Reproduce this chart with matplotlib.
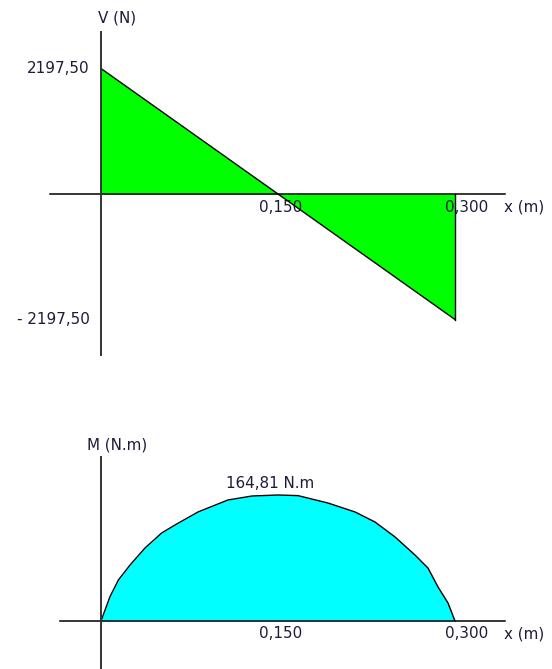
import matplotlib
matplotlib.use("Agg")
import matplotlib.pyplot as plt
import numpy as np

# ---- data -------------------------------------------------------------
# shear force diagram V(x)
v_x = [0.0, 0.150, 0.300]
v_val = [2197.50, 0.0, -2197.50]
v_labels = ["2197,50", "- 2197,50"]

# bending moment diagram M(x)
m_x = [0.0, 0.0076, 0.0147, 0.0246, 0.0373, 0.0514, 0.0627, 0.0822, 0.1076,
       0.1280, 0.150, 0.1669, 0.1924, 0.2153, 0.2322, 0.2492, 0.2661,
       0.2771, 0.2856, 0.2941, 0.300]
m_val = [0.0, 31.8, 53.6, 73.2, 95.5, 115.1, 125.6, 142.6, 158.3,
         163.5, 164.81, 164.0, 154.3, 142.6, 129.5, 109.9, 86.3,
         69.3, 44.5, 23.5, 0.0]
m_peak_label = "164,81 N.m"

x_ticks = [0.150, 0.300]
x_tick_labels = ["0,150", "0,300"]
x_axis_label = "x (m)"
v_axis_label = "V (N)"
m_axis_label = "M (N.m)"

# ---- layout (pixels) --------------------------------------------------
W, H = 552, 669
X0 = 101            # pixel column of x = 0
XS = 1180.0         # pixels per metre
V0 = 194            # pixel row of V = 0
VS = 125.5 / 2197.5  # pixels per newton
M0 = 621            # pixel row of M = 0
MS = 126.0 / 164.81  # pixels per N.m

TXT = "#1c1c38"
FONT = dict(family="DejaVu Sans", size=10.9, color=TXT)

fig = plt.figure(figsize=(W / 100, H / 100), dpi=100)
fig.patch.set_facecolor("white")

xlim = (-X0 / XS, (W - X0) / XS)

ax_v = fig.add_axes([0, 0, 1, 1])
ax_v.set_xlim(*xlim)
ax_v.set_ylim((V0 - H) / VS, V0 / VS)
ax_v.axis("off")
ax_v.patch.set_alpha(0)

ax_m = fig.add_axes([0, 0, 1, 1])
ax_m.set_xlim(*xlim)
ax_m.set_ylim((M0 - H) / MS, M0 / MS)
ax_m.axis("off")
ax_m.patch.set_alpha(0)


def px_x(p):
    return (p - X0) / XS


# ---- shear diagram ----------------------------------------------------
ax_v.fill_between(v_x, v_val, 0, color="#00ff00", linewidth=0, zorder=1)
ax_v.plot(v_x, v_val, color="black", linewidth=1.0, zorder=2)
ax_v.plot([v_x[-1], v_x[-1]], [v_val[-1], 0], color="black", linewidth=1.0, zorder=2)
# axes
ax_v.plot([px_x(50), px_x(505)], [0, 0], color="black", linewidth=1.1, zorder=3)
ax_v.plot([0, 0], [(V0 - 32) / VS, (V0 - 355) / VS], color="#333333",
          linewidth=1.4, zorder=3)

ax_v.annotate(v_axis_label, (0, (V0 - 18) / VS), xytext=(-3, 0),
              textcoords="offset pixels", ha="left", va="center", **FONT)
ax_v.annotate(v_labels[0], (0, v_val[0]), xytext=(-11, 0),
              textcoords="offset pixels", ha="right", va="center", **FONT)
ax_v.annotate(v_labels[1], (0, v_val[-1]), xytext=(-11, 0),
              textcoords="offset pixels", ha="right", va="center", **FONT)
# tick labels lie on the fill but under its outline
for xt, lab, dx in zip(x_ticks, x_tick_labels, [3, 12]):
    ax_v.annotate(lab, (xt, 0), xytext=(dx, -13), textcoords="offset pixels",
                  ha="center", va="center", zorder=1.5, **FONT)
ax_v.annotate(x_axis_label, (px_x(504), 0), xytext=(0, -13),
              textcoords="offset pixels", ha="left", va="center", **FONT)

# ---- moment diagram ---------------------------------------------------
ax_m.fill_between(m_x, m_val, 0, color="#00ffff", linewidth=0, zorder=1)
ax_m.plot(m_x, m_val, color="black", linewidth=1.0, zorder=2)
ax_m.plot([px_x(60), px_x(505)], [0, 0], color="black", linewidth=1.1, zorder=3)
ax_m.plot([0, 0], [(M0 - 457) / MS, (M0 - H - 5) / MS], color="#333333",
          linewidth=1.4, zorder=3)

ax_m.annotate(m_axis_label, (0, (M0 - 445) / MS), xytext=(-14, 0),
              textcoords="offset pixels", ha="left", va="center", **FONT)
i_peak = int(np.argmax(m_val))
ax_m.annotate(m_peak_label, (m_x[i_peak], m_val[i_peak]), xytext=(-8, 12),
              textcoords="offset pixels", ha="center", va="center", **FONT)
for xt, lab, dx in zip(x_ticks, x_tick_labels, [3, 12]):
    ax_m.annotate(lab, (xt, 0), xytext=(dx, -12), textcoords="offset pixels",
                  ha="center", va="center", **FONT)
ax_m.annotate(x_axis_label, (px_x(504), 0), xytext=(0, -13),
              textcoords="offset pixels", ha="left", va="center", **FONT)

fig.savefig("out.png", dpi=100, facecolor="white")
